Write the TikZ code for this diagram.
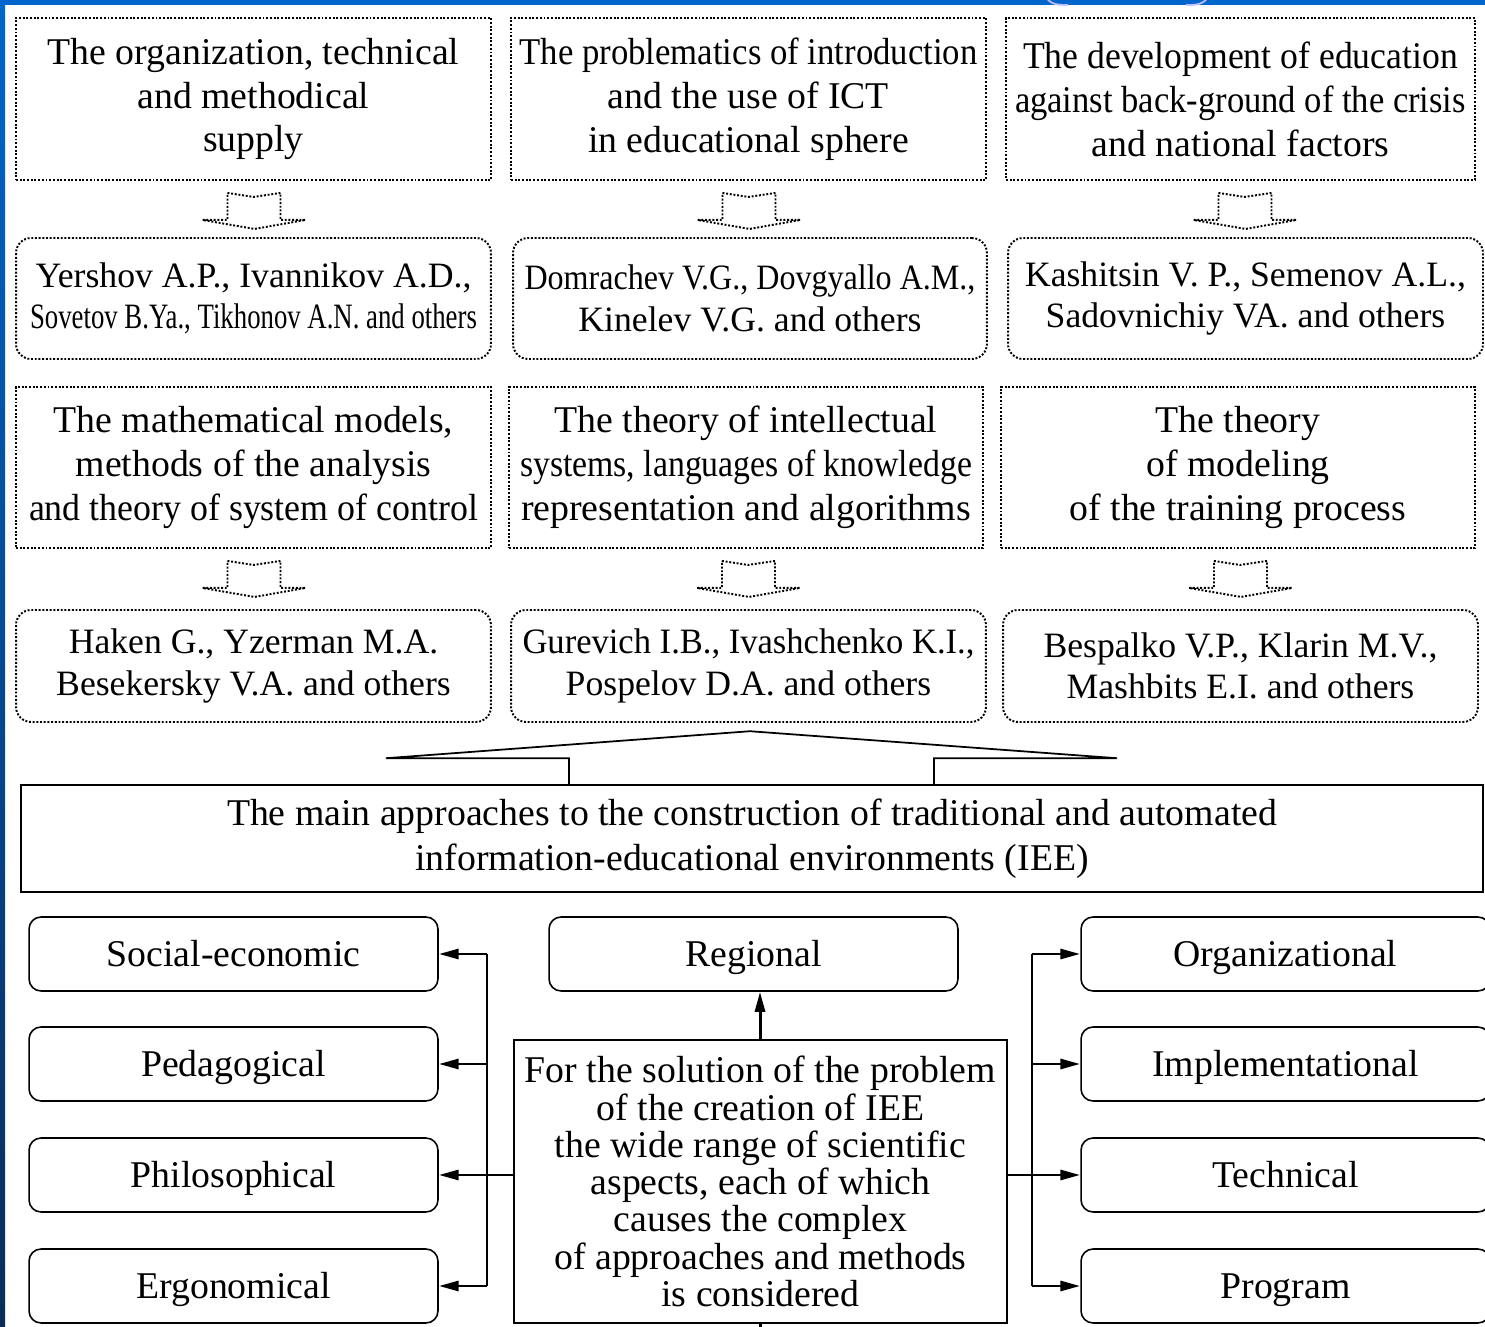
\documentclass[tikz,border=0pt]{standalone}
\usepackage{fontspec}
\setmainfont{Liberation Serif}
\usetikzlibrary{arrows.meta}

\definecolor{slideblue}{RGB}{0,102,204}
\definecolor{slidenavy}{RGB}{10,45,90}

% squeeze a line to the given width, height kept
\newcommand{\squeeze}[2]{\resizebox{#1}{\height}{#2}}

\begin{document}
\begin{tikzpicture}[x=0.02cm,y=-0.02cm]

  \useasboundingbox (0,0) rectangle (1485,1327);
  \clip (0,0) rectangle (1485,1327);

  % slide frame
  \fill[slideblue] (0,0) rectangle (1485,5);
  \shade[top color=slideblue,bottom color=slidenavy] (0,0) rectangle (5,1327);
  \draw[blue!25,line width=1pt] (1046,-3) to[out=-60,in=180] (1068,5);
  \draw[blue!25,line width=1pt] (1208,-3) to[out=-120,in=0] (1186,5);

  % node styles
  \tikzstyle{Topic}=[
  draw,densely dotted,
  line width=1.1pt,
  align=center,
  font=\fontsize{21.5}{25}\selectfont,
  inner sep=0pt,
  minimum width=9.5cm,
  minimum height=3.24cm]

  \tikzstyle{Names}=[Topic,
  rounded corners=0.3cm,
  font=\fontsize{20.3}{23.5}\selectfont]

  \tikzstyle{Aspect}=[
  draw,solid,
  line width=0.9pt,
  rounded corners=0.24cm,
  font=\fontsize{21.5}{25}\selectfont,
  text height=16pt,text depth=2pt,
  minimum width=8.18cm,
  minimum height=1.48cm]

  \tikzstyle{Hollow}=[densely dotted,line width=1.1pt]
  \tikzstyle{Arr}=[line width=1.7pt,-{Triangle[length=0.4cm,width=0.2cm]}]
  \tikzstyle{Bus}=[line width=0.8pt]

  % scientific directions
  \node[Topic] (A1) at (253.5,99) {The organization, technical\\ and methodical\\ supply};
  \node[Topic] (A2) at (748.5,99) {\squeeze{9.16cm}{The problematics of introduction}\\ and the use of ICT\\ in educational sphere};
  \node[Topic,minimum width=9.38cm] (A3) at (1240.5,99) {\squeeze{8.7cm}{The development of education}\\ \squeeze{9.02cm}{against back-ground of the crisis}\\ and national factors};

  \node[Names,minimum height=2.42cm] (B1) at (253.5,298.5) {\squeeze{8.72cm}{Yershov A.P., Ivannikov A.D.,}\\ \squeeze{8.94cm}{Sovetov B.Ya., Tikhonov A.N. and others}};
  \node[Names,minimum height=2.42cm,minimum width=9.48cm] (B2) at (750,298.5) {\squeeze{9.02cm}{Domrachev V.G., Dovgyallo A.M.,}\\ Kinelev V.G. and others};
  \node[Names,minimum height=2.42cm] (B3) at (1245.5,298.5) {\squeeze{8.82cm}{Kashitsin V. P., Semenov A.L.,}\\ Sadovnichiy VA. and others};

  \node[Topic,minimum height=3.22cm] (C1) at (253.5,467.5) {The mathematical models,\\ methods of the analysis\\ \squeeze{8.98cm}{and theory of system of control}};
  \node[Topic,minimum height=3.22cm,minimum width=9.48cm] (C2) at (746,467.5) {The theory of intellectual\\ \squeeze{9.04cm}{systems, languages of knowledge}\\ \squeeze{9.0cm}{representation and algorithms}};
  \node[Topic,minimum height=3.22cm,minimum width=9.48cm] (C3) at (1238,467.5) {The theory\\ of modeling\\ of the training process};

  \node[Names,minimum height=2.24cm] (D1) at (253.5,666) {Haken G., Yzerman M.A.\\ Besekersky V.A. and others};
  \node[Names,minimum height=2.24cm] (D2) at (748.5,666) {\squeeze{9.04cm}{Gurevich I.B., Ivashchenko K.I.,}\\ Pospelov D.A. and others};
  \node[Names,minimum height=2.24cm] (D3) at (1240.5,666) {Bespalko V.P., Klarin M.V.,\\ Mashbits E.I. and others};

  % hollow arrows between the rows
  \draw[Hollow] (A1.south) +(-26,12) -- +(0,16) -- +(27,12) -- +(27,39) -- +(52,39) -- +(1,48) -- +(-51,39) -- +(-26,39) -- cycle;
  \draw[Hollow] (A2.south) +(-26,12) -- +(0,16) -- +(27,12) -- +(27,39) -- +(52,39) -- +(1,48) -- +(-51,39) -- +(-26,39) -- cycle;
  \draw[Hollow] (A3.south) +(-22,12) -- +(4,16) -- +(31,12) -- +(31,39) -- +(56,39) -- +(5,48) -- +(-47,39) -- +(-22,39) -- cycle;
  \draw[Hollow] (C1.south) +(-26,12) -- +(0,16) -- +(27,12) -- +(27,39) -- +(52,39) -- +(1,48) -- +(-51,39) -- +(-26,39) -- cycle;
  \draw[Hollow] (C2.south) +(-24,12) -- +(2,16) -- +(29,12) -- +(29,39) -- +(54,39) -- +(3,48) -- +(-49,39) -- +(-24,39) -- cycle;
  \draw[Hollow] (C3.south) +(-24,12) -- +(2,16) -- +(29,12) -- +(29,39) -- +(54,39) -- +(3,48) -- +(-49,39) -- +(-24,39) -- cycle;

  % main approaches
  \node[draw,line width=0.9pt,align=center,inner sep=0pt,
        minimum width=29.24cm,minimum height=2.14cm,
        font=\fontsize{21.5}{25.5}\selectfont] (E) at (752,838.5)
        {The main approaches to the construction of traditional and automated\\ information-educational environments (IEE)};

  \draw[line width=1pt] (E.north) +(-183,0) -- +(-183,-26) -- +(-366,-26) -- +(-2,-53) -- +(365,-26) -- +(182,-26) -- +(182,0);

  % aspects
  \node[Aspect] (L1) at (233.5,954) {Social-economic};
  \node[Aspect] (L2) at (233.5,1064) {Pedagogical};
  \node[Aspect] (L3) at (233.5,1175) {Philosophical};
  \node[Aspect] (L4) at (233.5,1286) {Ergonomical};

  \node[Aspect] (R0) at (753.5,954) {Regional};

  \node[Aspect] (R1) at (1285.5,954) {Organizational};
  \node[Aspect] (R2) at (1285.5,1064) {Implementational};
  \node[Aspect] (R3) at (1285.5,1175) {Technical};
  \node[Aspect] (R4) at (1285.5,1286) {Program};

  \node[draw,line width=0.9pt,align=center,inner sep=0pt,
        minimum width=9.86cm,minimum height=5.66cm,
        font=\fontsize{21.5}{21.2}\selectfont] (F) at (760.5,1181.5)
        {For the solution of the problem\\ of the creation of IEE\\ the wide range of scientific\\ aspects, each of which\\ causes the complex\\ of approaches and methods\\ is considered};

  % connectors
  \coordinate (LJ) at (487,1175);
  \coordinate (RJ) at (1032,1175);
  \coordinate (Out) at (760,1340);

  \draw[Bus] (LJ -| F.west) -- (LJ);
  \draw[Bus] (LJ |- L1) -- (LJ |- L4);
  \draw[Arr] (LJ |- L1) -- (L1.east);
  \draw[Arr] (LJ |- L2) -- (L2.east);
  \draw[Arr] (LJ |- L3) -- (L3.east);
  \draw[Arr] (LJ |- L4) -- (L4.east);

  \draw[Bus] (RJ -| F.east) -- (RJ);
  \draw[Bus] (RJ |- R1) -- (RJ |- R4);
  \draw[Arr] (RJ |- R1) -- (R1.west);
  \draw[Arr] (RJ |- R2) -- (R2.west);
  \draw[Arr] (RJ |- R3) -- (R3.west);
  \draw[Arr] (RJ |- R4) -- (R4.west);

  \draw[Arr] (Out |- F.north) -- (Out |- R0.south);
  \draw[line width=1.7pt] (Out |- F.south) -- (Out);

\end{tikzpicture}
\end{document}
